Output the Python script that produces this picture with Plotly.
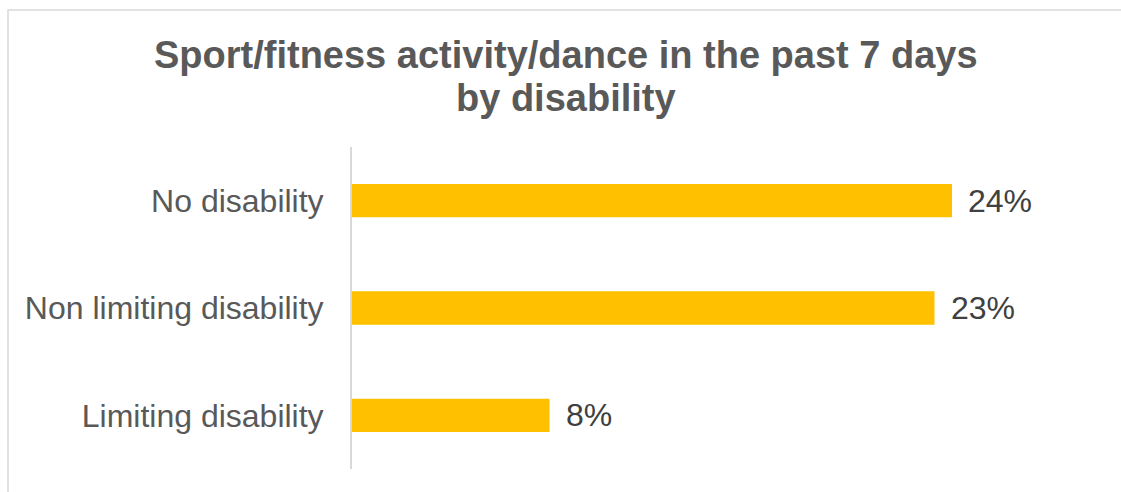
import plotly.graph_objects as go

categories = ["No disability", "Non limiting disability", "Limiting disability"]
values = [0.240, 0.233, 0.079]
labels = ["24%", "23%", "8%"]
title_lines = ["Sport/fitness activity/dance in the past 7 days", "by disability"]

W, H = 1121, 492
L, R, T, B = 352, 19, 147, 23
pw, ph = W - L - R, H - T - B

def px_x(x):
    return (x - L) / pw

def px_y(y):
    return (H - B - y) / ph

fig = go.Figure()
fig.add_trace(go.Bar(
    y=categories, x=values, orientation="h",
    marker=dict(color="#FFC000", line=dict(width=0)),
    hoverinfo="skip",
))

for c, v, t in zip(categories, values, labels):
    fig.add_annotation(x=v, y=c, xref="x", yref="y", text=t, showarrow=False,
                       xanchor="left", yanchor="middle", xshift=14,
                       font=dict(family="Liberation Sans, Arial", size=32, color="#404040"))

# title lines
fig.add_annotation(x=px_x(566), y=px_y(55), xref="paper", yref="paper", text="<b>" + title_lines[0] + "</b>",
                   showarrow=False, xanchor="center", yanchor="middle",
                   font=dict(family="Liberation Sans, Arial", size=38, color="#595959"))
fig.add_annotation(x=px_x(566), y=px_y(98), xref="paper", yref="paper", text="<b>" + title_lines[1] + "</b>",
                   showarrow=False, xanchor="center", yanchor="middle",
                   font=dict(family="Liberation Sans, Arial", size=38, color="#595959"))

# chart frame
fig.add_shape(type="rect", xref="paper", yref="paper",
              x0=px_x(8), x1=px_x(1130), y0=px_y(500), y1=px_y(10),
              line=dict(color="#d9d9d9", width=1.5), fillcolor="rgba(0,0,0,0)", layer="below")

fig.update_layout(
    width=W, height=H,
    margin=dict(l=L, r=R, t=T, b=B, pad=0),
    paper_bgcolor="white", plot_bgcolor="white",
    bargap=0.69,
    showlegend=False,
    font=dict(family="Liberation Sans, Arial", color="#595959"),
    xaxis=dict(range=[0, 0.30], visible=False, showgrid=False, zeroline=False),
    yaxis=dict(autorange="reversed", showline=True, linecolor="#d9d9d9", linewidth=2,
               ticks="", showgrid=False, zeroline=False,
               tickfont=dict(family="Liberation Sans, Arial", size=32, color="#595959"),
               ticklabelstandoff=20),
)

fig.write_html("out.html")
